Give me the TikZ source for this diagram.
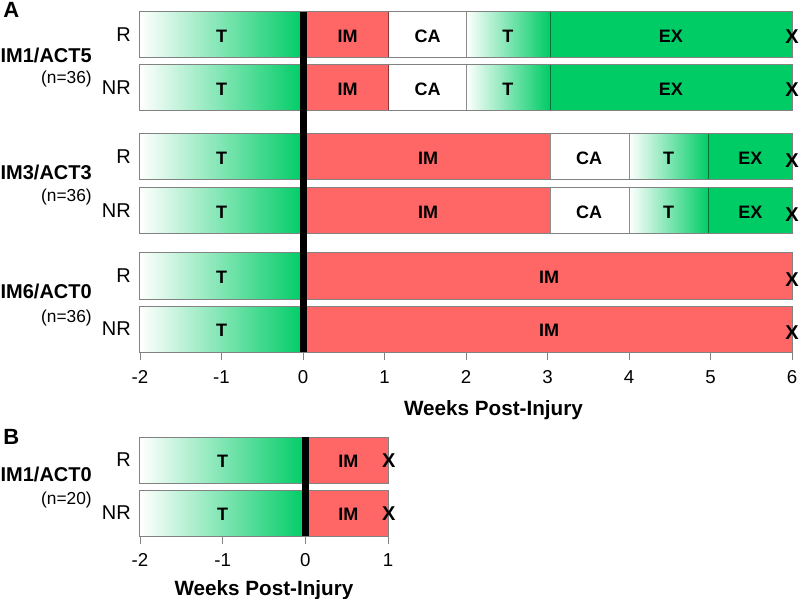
\documentclass[tikz,border=0pt]{standalone}
\usepackage{fontspec}
\setmainfont{Liberation Sans}
\usetikzlibrary{positioning}
\definecolor{exgreen}{RGB}{0,204,102}
\definecolor{imred}{RGB}{255,102,102}
\definecolor{edgegray}{RGB}{130,130,130}
\tikzset{
  tshade/.style={left color=white,right color=exgreen},
  barframe/.style={draw=edgegray,line width=.75pt},
  divider/.style={draw=black,draw opacity=.45,line width=.6pt},
  seglbl/.style={font=\fontsize{13.5}{14}\selectfont\bfseries,inner sep=0pt},
  rowlbl/.style={font=\fontsize{15}{16}\selectfont,anchor=east,inner sep=0pt},
  grplbl/.style={font=\fontsize{15}{16}\selectfont\bfseries,anchor=base east,inner sep=0pt},
  nlbl/.style={font=\fontsize{13}{14}\selectfont,anchor=base east,inner sep=0pt},
  endx/.style={font=\fontsize{15}{16}\selectfont\bfseries,inner sep=0pt},
  tickln/.style={draw=edgegray,line width=.6pt},
  ticklbl/.style={font=\fontsize{14}{15}\selectfont,anchor=base,inner sep=0pt},
  axtitle/.style={font=\fontsize{15.5}{16}\selectfont\bfseries,anchor=base,inner sep=0pt},
  panel/.style={font=\fontsize{16.5}{17}\selectfont\bfseries,anchor=base west,inner sep=0pt}
}
\begin{document}
\begin{tikzpicture}[x=61.125pt,y=-.75pt]
\useasboundingbox (-3.7178,0) rectangle (6.0982,599);
% panel A
\node[panel] (pA) at (-3.68,18) {A};
\begin{scope}
\foreach \y/\r in {12/R,65/NR}{
  \shade[tshade] (-2,\y) rectangle (0,\y+46);
  \fill[imred] (0,\y) rectangle (1.05,\y+46);
  \fill[white] (1.05,\y) rectangle (2,\y+46);
  \shade[tshade] (2,\y) rectangle (3.03,\y+46);
  \fill[exgreen] (3.03,\y) rectangle (6,\y+46);
  \draw[divider] (1.05,\y) -- (1.05,\y+46) (2,\y) -- (2,\y+46) (3.03,\y) -- (3.03,\y+46);
  \draw[barframe] (-2,\y) rectangle (6,\y+46);
  \node[rowlbl] (a\r) at (-2.11,\y+23) {\r};
  \node[seglbl] (a\r-t) at (-1,\y+24) {T};
  \node[seglbl] (a\r-im) at (0.546,\y+24) {IM};
  \node[seglbl] (a\r-ca) at (1.528,\y+24) {CA};
  \node[seglbl] (a\r-t2) at (2.515,\y+24) {T};
  \node[seglbl] (a\r-ex) at (4.515,\y+24) {EX};
  \node[endx] (a\r-x) at (6,\y+25) {X};
}
\node[grplbl] (g1) at (-2.589,63) {IM1/ACT5};
\node[nlbl] (g1n) at (-2.589,84) {(n=36)};
\end{scope}
\begin{scope}
\foreach \y/\r in {134/R,188/NR}{
  \shade[tshade] (-2,\y) rectangle (0,\y+46);
  \fill[imred] (0,\y) rectangle (3.03,\y+46);
  \fill[white] (3.03,\y) rectangle (4,\y+46);
  \shade[tshade] (4,\y) rectangle (4.98,\y+46);
  \fill[exgreen] (4.98,\y) rectangle (6,\y+46);
  \draw[divider] (3.03,\y) -- (3.03,\y+46) (4,\y) -- (4,\y+46) (4.98,\y) -- (4.98,\y+46);
  \draw[barframe] (-2,\y) rectangle (6,\y+46);
  \node[rowlbl] (b\r) at (-2.11,\y+23) {\r};
  \node[seglbl] (b\r-t) at (-1,\y+24) {T};
  \node[seglbl] (b\r-im) at (1.534,\y+24) {IM};
  \node[seglbl] (b\r-ca) at (3.51,\y+24) {CA};
  \node[seglbl] (b\r-t2) at (4.485,\y+24) {T};
  \node[seglbl] (b\r-ex) at (5.49,\y+24) {EX};
  \node[endx] (b\r-x) at (6,\y+27) {X};
}
\node[grplbl] (g2) at (-2.589,179.5) {IM3/ACT3};
\node[nlbl] (g2n) at (-2.589,202) {(n=36)};
\end{scope}
\begin{scope}
\foreach \y/\r in {253/R,306/NR}{
  \shade[tshade] (-2,\y) rectangle (0,\y+46);
  \fill[imred] (0,\y) rectangle (6,\y+46);
  \draw[barframe] (-2,\y) rectangle (6,\y+46);
  \node[rowlbl] (c\r) at (-2.11,\y+23) {\r};
  \node[seglbl] (c\r-t) at (-1,\y+24) {T};
  \node[seglbl] (c\r-im) at (3.02,\y+24) {IM};
  \node[endx] (c\r-x) at (6,\y+27) {X};
}
\node[grplbl] (g3) at (-2.589,298) {IM6/ACT0};
\node[nlbl] (g3n) at (-2.589,322) {(n=36)};
\end{scope}
\fill[black] (-0.04,12) rectangle (0.045,352);
\foreach \t in {-2,...,6}{
  \draw[tickln] (\t,352) -- (\t,360);
  \node[ticklbl] (ta\t) at (\t,383) {\t};
}
\node[axtitle] (wA) at (2.337,415) {Weeks Post-Injury};
% panel B
\node[panel] (pB) at (-3.68,444) {B};
\begin{scope}[xshift=1.75pt,x=62pt]
\foreach \y/\r in {437/R,490/NR}{
  \shade[tshade] (-2,\y) rectangle (0,\y+46);
  \fill[imred] (0,\y) rectangle (1,\y+46);
  \draw[barframe] (-2,\y) rectangle (1,\y+46);
  \node[seglbl] (d\r-t) at (-1,\y+24) {T};
  \node[seglbl] (d\r-im) at (0.52,\y+24) {IM};
  \node[endx] (d\r-x) at (1.01,\y+24) {X};
}
\fill[black] (-0.04,437) rectangle (0.045,536);
\foreach \t in {-2,...,1}{
  \draw[tickln] (\t,536) -- (\t,544);
  \node[ticklbl] (tb\t) at (\t,566) {\t};
}
\node[axtitle] (wB) at (-0.5,595) {Weeks Post-Injury};
\end{scope}
\node[rowlbl] (dR) at (-2.11,460) {R};
\node[rowlbl] (dNR) at (-2.11,513) {NR};
\node[grplbl] (g4) at (-2.589,481.7) {IM1/ACT0};
\node[nlbl] (g4n) at (-2.589,504) {(n=20)};
\end{tikzpicture}
\end{document}
